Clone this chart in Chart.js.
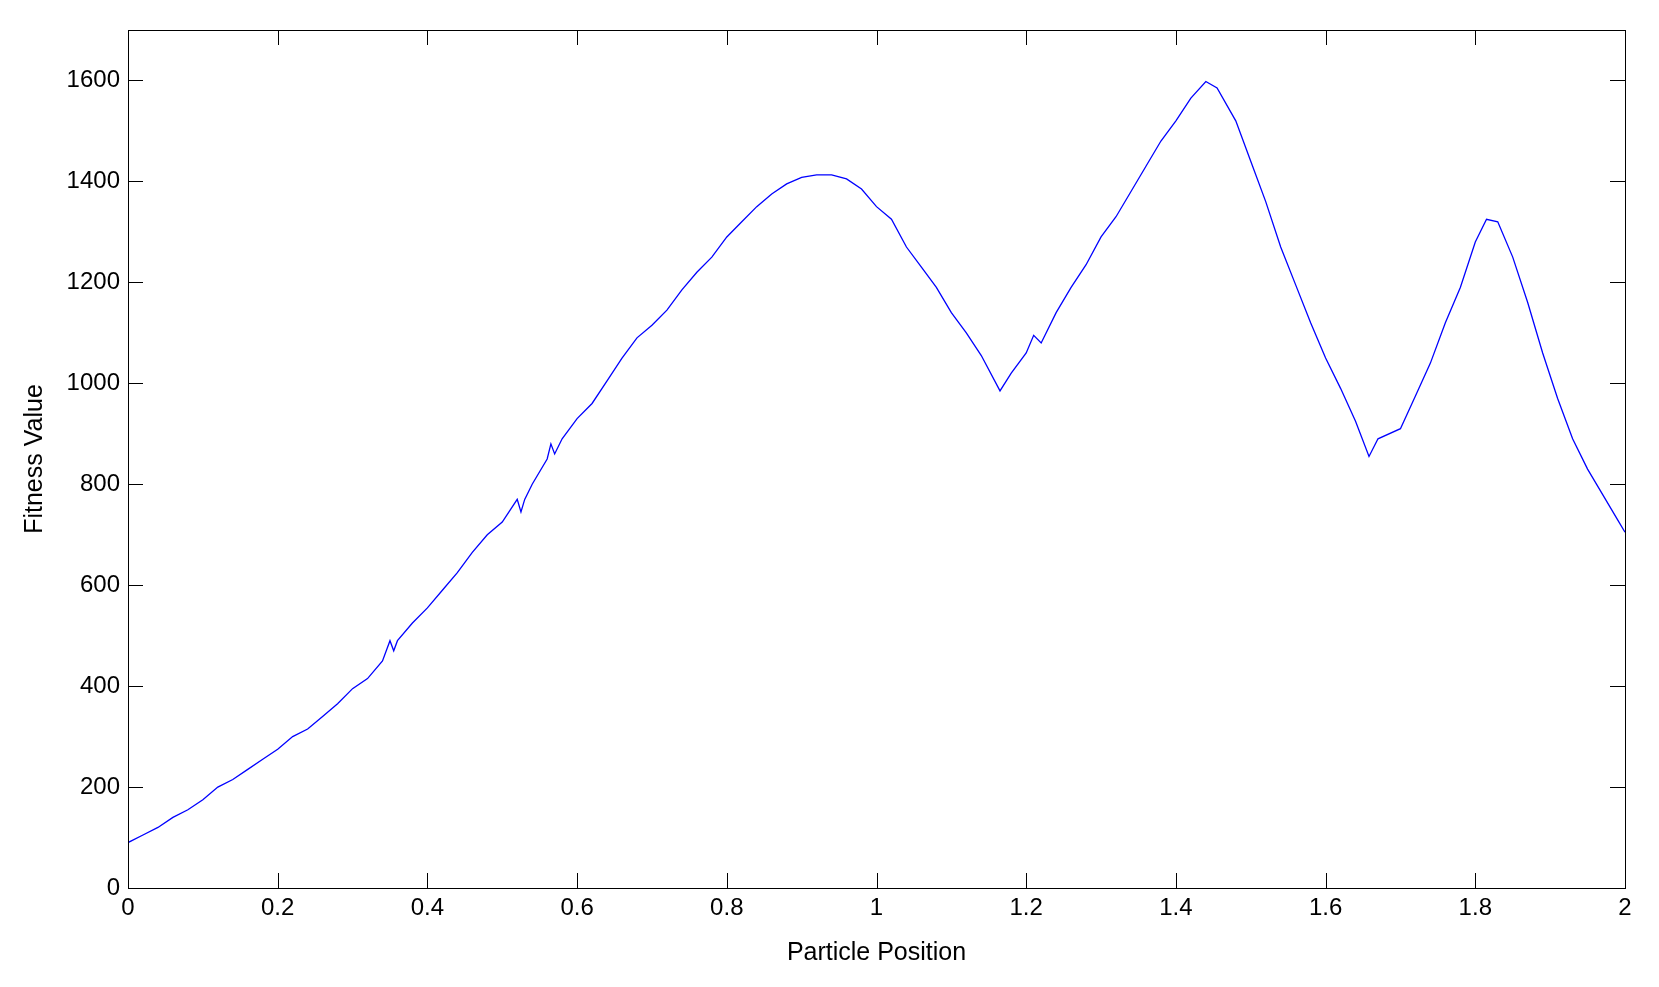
<!DOCTYPE html>
<html><head><meta charset="utf-8">
<script src="https://cdn.jsdelivr.net/npm/chart.js@4/dist/chart.umd.min.js"></script>
<style>html,body{margin:0;padding:0;background:#fff}#w{width:1659px;height:987px}</style>
</head><body><div id="w"><canvas id="c"></canvas></div>
<script>
const xPos = [0,0.02,0.04,0.06,0.08,0.1,0.12,0.14,0.16,0.18,0.2,0.22,0.24,0.26,0.28,0.3,0.32,0.34,0.35,0.355,0.36,0.38,0.4,0.42,0.44,0.46,0.48,0.5,0.52,0.525,0.53,0.54,0.56,0.565,0.57,0.58,0.6,0.62,0.64,0.66,0.68,0.7,0.72,0.74,0.76,0.78,0.8,0.82,0.84,0.86,0.88,0.9,0.92,0.94,0.96,0.98,1.0,1.02,1.04,1.06,1.08,1.1,1.12,1.14,1.165,1.18,1.2,1.21,1.22,1.24,1.26,1.28,1.3,1.32,1.34,1.36,1.38,1.4,1.42,1.44,1.455,1.48,1.5,1.52,1.54,1.56,1.58,1.6,1.62,1.64,1.658,1.67,1.7,1.72,1.74,1.76,1.78,1.8,1.815,1.83,1.85,1.87,1.89,1.91,1.93,1.95,1.97,1.99,2.0];
const fitness = [90,105,120,140,155,175,200,215,235,255,275,300,315,340,365,395,415,450,490,470,490,525,555,590,625,665,700,725,770,745,770,800,850,880,860,890,930,960,1005,1050,1090,1115,1145,1185,1220,1250,1290,1320,1350,1375,1395,1408,1413,1413,1405,1385,1350,1325,1270,1230,1190,1140,1100,1055,985,1020,1060,1095,1080,1140,1190,1235,1290,1330,1380,1430,1480,1520,1565,1598,1585,1520,1440,1360,1270,1195,1120,1050,990,925,855,890,910,975,1040,1120,1190,1280,1325,1320,1250,1160,1060,970,890,830,780,730,705];
const xTicks = [0,0.2,0.4,0.6,0.8,1,1.2,1.4,1.6,1.8,2];
const yTicks = [0,200,400,600,800,1000,1200,1400,1600];

const F = "'Liberation Sans', Arial, sans-serif";
const inTicks = {
  id:'inTicks',
  afterDraw(ch){
    const {ctx, chartArea:a, scales:{x,y}} = ch;
    ctx.save(); ctx.strokeStyle='#000'; ctx.lineWidth=1;
    ctx.beginPath();
    xTicks.forEach(v=>{const p=Math.round(x.getPixelForValue(v))+0.5;
      ctx.moveTo(p,a.bottom);ctx.lineTo(p,a.bottom-15);ctx.moveTo(p,a.top);ctx.lineTo(p,a.top+15);});
    yTicks.forEach(v=>{const p=Math.round(y.getPixelForValue(v))+0.5;
      ctx.moveTo(a.left,p);ctx.lineTo(a.left+15,p);ctx.moveTo(a.right,p);ctx.lineTo(a.right-15,p);});
    ctx.stroke();
    ctx.strokeRect(a.left+0.5,a.top+0.5,a.right-a.left,a.bottom-a.top);
    ctx.restore();
  }
};
new Chart(document.getElementById('c'),{
  type:'line',
  data:{datasets:[{data:xPos.map((v,i)=>({x:v,y:fitness[i]})),borderColor:'#0000ff',borderWidth:1.3,pointRadius:0,tension:0}]},
  options:{responsive:true,maintainAspectRatio:false,animation:false,
    layout:{padding:{left:16,right:34,top:30,bottom:19}},
    plugins:{legend:{display:false},tooltip:{enabled:false}},
    scales:{
      x:{type:'linear',min:0,max:2,afterBuildTicks:s=>{s.ticks=xTicks.map(v=>({value:v}));},
        afterFit:s=>{s.height=80;},
        grid:{display:false,drawTicks:false},border:{display:false},
        ticks:{color:'#000',padding:6,maxRotation:0,font:{family:F,size:24},callback:v=>String(v)},
        title:{display:true,text:'Particle Position',color:'#000',font:{family:F,size:25},padding:{top:0,bottom:0}}},
      y:{min:0,max:1700,afterBuildTicks:s=>{s.ticks=yTicks.map(v=>({value:v}));},
        afterFit:s=>{s.width=112;},
        grid:{display:false,drawTicks:false},border:{display:false},
        ticks:{color:'#000',padding:8,font:{family:F,size:24},callback:v=>String(v)},
        title:{display:true,text:'Fitness Value',color:'#000',font:{family:F,size:25},padding:{bottom:6}}}
    }},
  plugins:[inTicks]
});
</script></body></html>
